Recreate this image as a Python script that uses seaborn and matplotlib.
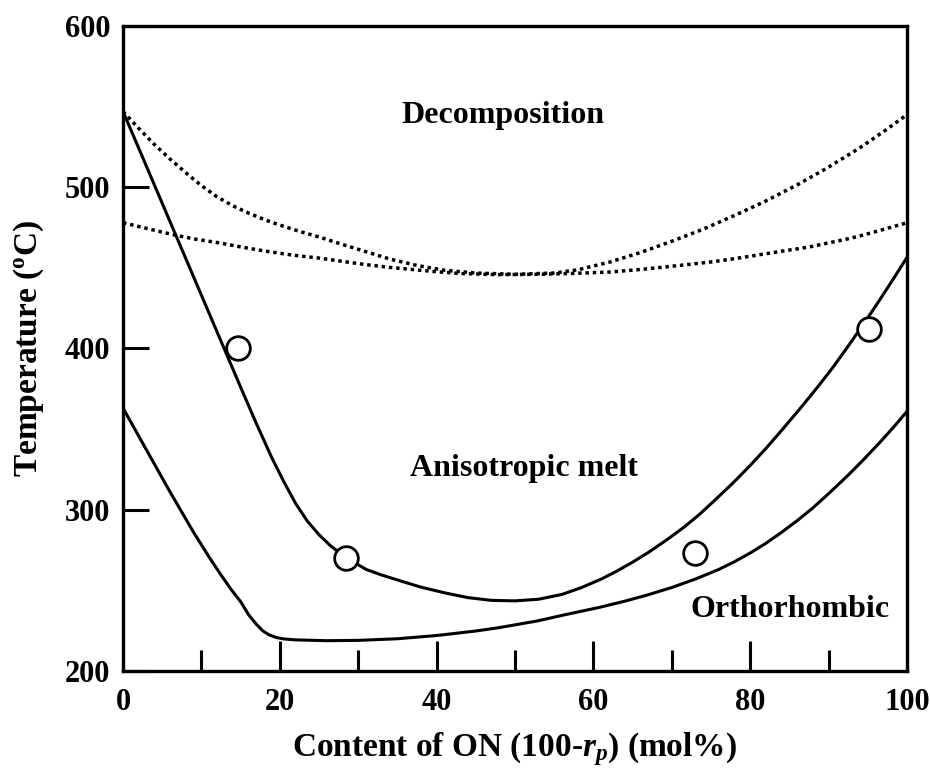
import matplotlib
matplotlib.use("Agg")
import matplotlib.pyplot as plt
from matplotlib.ticker import MultipleLocator
import pandas as pd
import seaborn as sns

# --- phase boundaries (content of ON in mol%, temperature in deg C) ---
upper_x = [0, 5, 10, 15, 17, 19, 20.5, 22, 23.5, 25, 26.5, 28.4, 31, 33, 35.3, 38,
           41, 44, 47, 50, 53, 56, 58.5, 61, 63, 65, 67, 69.4, 71.5, 73.5, 75.5,
           77.8, 80, 82, 84, 86.4, 88.5, 90.5, 92.5, 94.5, 96.5, 98.3, 100]
upper_y = [547, 490, 433, 376, 353.5, 332, 317.5, 304, 293, 284.5, 277.5, 270.5,
           263, 259.5, 256, 252, 248.5, 245.5, 243.8, 243.5, 244.5, 247.5, 251.8,
           257, 262, 267.5, 273.5, 281.5, 289, 297, 306, 316.6, 327.5, 338, 349.2,
           363, 375.5, 388, 401.5, 415.5, 430, 443.5, 456.5]

lower_x = [0, 3, 6, 9, 11, 12.5, 13.8, 15, 16, 17, 17.8, 18.6, 19.5, 20.5, 22, 26,
           30, 35, 40, 45, 48.1, 52.8, 56, 60.8, 64, 67, 70, 73, 76, 78, 80, 82,
           84, 86, 88, 90, 92.5, 94.5, 96.5, 98.3, 100]
lower_y = [363, 337, 311, 286, 270.5, 259.5, 250.5, 243, 235, 229, 225, 222.5, 220.8,
           219.9, 219.3, 218.8, 219, 220, 222, 224.8, 227, 231, 234.5, 239.5, 243.3,
           247.3, 251.8, 257, 263, 267.8, 273.2, 279.2, 286, 293.3, 301.2, 310,
           321.5, 331.3, 341.6, 351.3, 361]

decomp_hi_x = [0, 2, 4, 6, 8, 10, 12, 14, 16, 18, 20, 22.6, 25.1, 28, 31, 34, 37.5,
               41, 45, 50, 55, 58, 62, 66, 70, 74, 78, 82, 86, 90, 94, 97, 100]
decomp_hi_y = [547, 536.5, 526.5, 517.5, 509, 501, 494, 488.5, 484, 480, 476.5,
               472.5, 469, 464.5, 460, 455.5, 451.5, 448.5, 446.8, 446, 446.8, 448.8,
               453.5, 459.5, 466.5, 474, 482.5, 491.5, 501.5, 512.5, 524.5, 534.5, 545]

decomp_lo_x = [0, 3, 6, 9, 12.4, 15, 18, 21.5, 25.1, 28, 31, 34, 37.5, 40, 43, 47.7,
               53, 57, 62.1, 66, 70, 74.9, 78, 81, 84, 87.6, 90, 92, 94, 96, 98, 100]
decomp_lo_y = [478, 474.5, 471, 468, 465.4, 463, 460.5, 458, 456, 454, 452, 450.3,
               448.7, 447.6, 446.5, 445.8, 446, 446.5, 447.4, 449, 451, 453.6, 455.7,
               458, 460.3, 463, 465.5, 467.5, 469.8, 472.5, 475.2, 478]

# --- measured transition temperatures ---
meas_x = [14.7, 28.4, 73.0, 95.1]
meas_y = [400, 270, 273, 412]

x_ticks = [0, 20, 40, 60, 80, 100]
y_ticks = [200, 300, 400, 500, 600]

sns.set_theme(style="ticks")
plt.rcParams["font.family"] = ["Liberation Serif", "DejaVu Serif"]
plt.rcParams["font.weight"] = "bold"
plt.rcParams["text.color"] = "black"
plt.rcParams["axes.labelcolor"] = "black"
plt.rcParams["xtick.color"] = "black"
plt.rcParams["ytick.color"] = "black"
plt.rcParams["mathtext.fontset"] = "custom"
plt.rcParams["mathtext.rm"] = "Liberation Serif:bold"
plt.rcParams["mathtext.it"] = "Liberation Serif:italic:bold"
plt.rcParams["mathtext.bf"] = "Liberation Serif:bold"

fig = plt.figure(figsize=(9.3, 7.71), dpi=100)
ax = fig.add_axes([0.1323, 0.1297, 0.8430, 0.8366])

solid = dict(color="black", lw=2.2, estimator=None, sort=False, legend=False)
dotted = dict(color="black", lw=2.5, estimator=None, sort=False, legend=False,
              linestyle=(0, (1.0, 1.1)), dash_capstyle="butt")

sns.lineplot(data=pd.DataFrame({"x": upper_x, "y": upper_y}), x="x", y="y", ax=ax, **solid)
sns.lineplot(data=pd.DataFrame({"x": lower_x, "y": lower_y}), x="x", y="y", ax=ax, **solid)
sns.lineplot(data=pd.DataFrame({"x": decomp_hi_x, "y": decomp_hi_y}), x="x", y="y", ax=ax, **dotted)
sns.lineplot(data=pd.DataFrame({"x": decomp_lo_x, "y": decomp_lo_y}), x="x", y="y", ax=ax, **dotted)

sns.scatterplot(x=meas_x, y=meas_y, ax=ax, marker="o", s=290, color="white",
                edgecolor="black", linewidth=2.0, zorder=5, legend=False)

ax.text(48.4, 540, "Decomposition", ha="center", va="baseline", fontsize=23,
        fontweight="bold", color="black")
ax.text(51.1, 321, "Anisotropic melt", ha="center", va="baseline", fontsize=23,
        fontweight="bold", color="black")
ax.text(85.1, 233.5, "Orthorhombic", ha="center", va="baseline", fontsize=23,
        fontweight="bold", color="black")

ax.set_xlim(0, 100)
ax.set_ylim(200, 600)
ax.set_xticks(x_ticks)
ax.set_yticks(y_ticks)
ax.xaxis.set_minor_locator(MultipleLocator(10))

for side in ["left", "right", "top", "bottom"]:
    ax.spines[side].set_linewidth(2.4)
    ax.spines[side].set_color("black")

ax.tick_params(axis="x", which="major", direction="in", length=21.6, width=2.2,
               pad=12, labelsize=22, colors="black")
ax.tick_params(axis="x", which="minor", direction="in", length=15, width=2.2,
               colors="black")
ax.tick_params(axis="y", which="major", direction="in", length=18.7, width=2.2,
               pad=9, labelsize=22, colors="black")
for lab in ax.get_xticklabels() + ax.get_yticklabels():
    lab.set_fontweight("bold")

ax.set_xlabel(r"Content of ON (100-$\mathit{r_p}$) (mol%)", fontsize=24,
              fontweight="bold", labelpad=10, color="black")
ax.set_ylabel(r"Temperature ($^{\mathrm{o}}$C)", fontsize=24,
              fontweight="bold", labelpad=14, color="black")

fig.savefig("out.png", dpi=100)
